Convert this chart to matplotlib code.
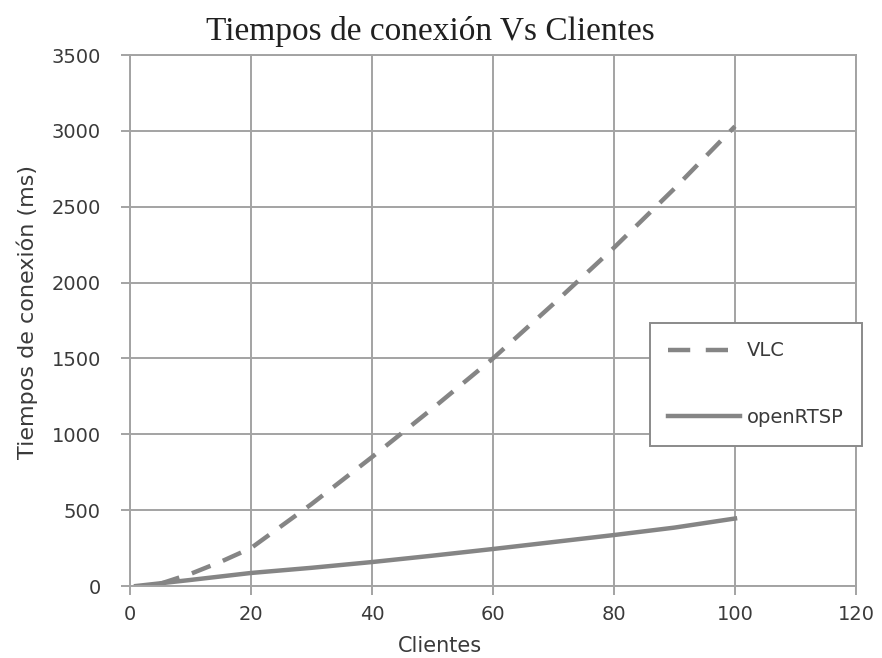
import matplotlib.pyplot as plt

# datos
clientes_vlc = [5, 10, 15, 20, 30, 40, 50, 60, 70, 80, 90, 100]
tiempos_vlc = [15, 80, 160, 250, 540, 850, 1170, 1500, 1860, 2230, 2620, 3030]

clientes_rtsp = [1, 10, 20, 30, 40, 50, 60, 70, 80, 90, 100]
tiempos_rtsp = [0, 40, 86, 120, 158, 200, 244, 290, 336, 385, 445]

x_ticks = [0, 20, 40, 60, 80, 100, 120]
y_ticks = [0, 500, 1000, 1500, 2000, 2500, 3000, 3500]

gris = '#858585'
gris_grid = '#a3a3a3'
texto = '#3a3a3a'

plt.rcParams['font.family'] = ['DejaVu Sans']

fig = plt.figure(figsize=(8.82, 6.58), dpi=100)
ax = fig.add_axes([0.1474, 0.1094, 0.8231, 0.807])

ax.plot(clientes_vlc, tiempos_vlc, color=gris, linewidth=3.2,
        linestyle=(0, (4.5, 3)), label='VLC')
ax.plot(clientes_rtsp, tiempos_rtsp, color=gris, linewidth=3.2, label='openRTSP')

ax.set_xlim(0, 120)
ax.set_ylim(0, 3500)
ax.set_xticks(x_ticks)
ax.set_yticks(y_ticks)
ax.grid(True, color=gris_grid, linewidth=1.4)
ax.set_axisbelow(True)
for s in ax.spines.values():
    s.set_color(gris_grid)
    s.set_linewidth(1.4)
ax.tick_params(axis='both', colors=gris_grid, labelcolor=texto, labelsize=14,
               length=6.5, width=1.4)
ax.tick_params(axis='y', pad=14.5)
ax.tick_params(axis='x', pad=7)

ax.set_xlabel('Clientes', fontsize=15, color=texto, va='center')
ax.xaxis.set_label_coords(0.427, -0.113)
ax.set_ylabel('Tiempos de conexión (ms)', fontsize=16, color=texto, va='center')
ax.yaxis.set_label_coords(-0.142, 0.516)
fig.text(0.488, 0.952, 'Tiempos de conexión Vs Clientes', ha='center', va='center',
         fontsize=24, family='Liberation Serif', color='#202020')

leg = ax.legend(loc='upper left', bbox_to_anchor=(650 / 882, 1 - 323 / 658),
                bbox_transform=fig.transFigure, borderaxespad=0,
                fancybox=False, framealpha=1,
                edgecolor='#8a8a8a', fontsize=14, handlelength=3.7,
                labelspacing=2.45, borderpad=0.95, handletextpad=0.35)
leg.get_frame().set_linewidth(1.4)
leg.get_lines()[0].set_dashes((5, 3.5))
for t in leg.get_texts():
    t.set_color(texto)

fig.savefig('out.png', dpi=100)
